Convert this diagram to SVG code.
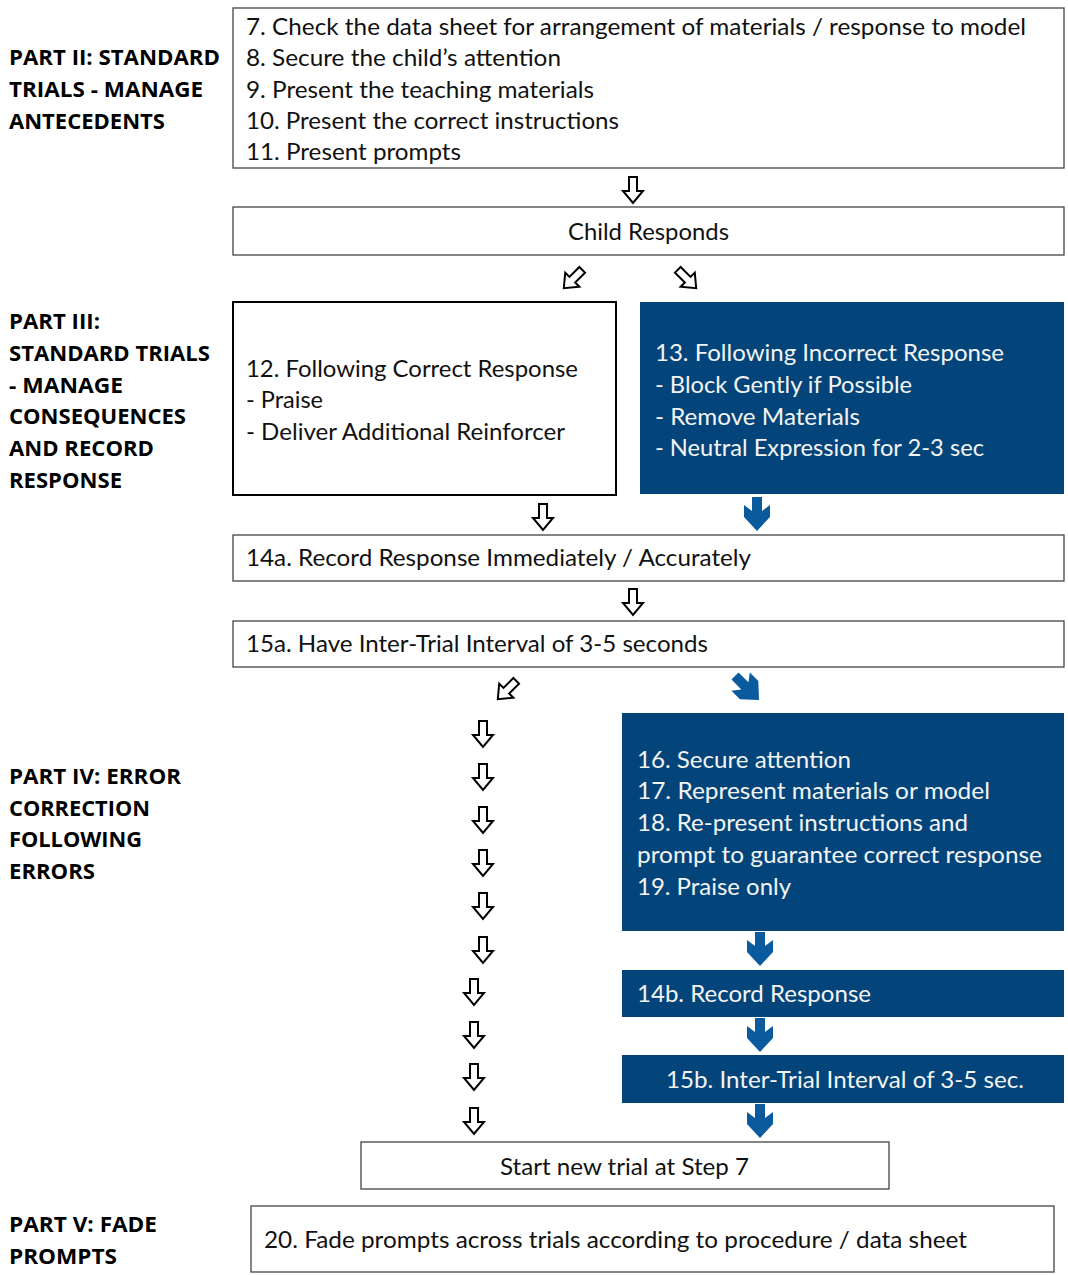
<svg xmlns="http://www.w3.org/2000/svg" xmlns:xlink="http://www.w3.org/1999/xlink" width="1068" height="1275" viewBox="0 0 1068 1275">
<style>
.t{font-family:Lato,"Open Sans","Liberation Sans",sans-serif;font-size:24px;fill:#111}
.w{fill:#f4f4f4}
.b{font-family:"Open Sans",Lato,"Liberation Sans",sans-serif;font-size:21px;font-weight:bold;fill:#000}
.box{fill:#fff;stroke:#444;stroke-width:1.3}
.boxk{fill:#fff;stroke:#000;stroke-width:2}
.blue{fill:#03457a}
.ha{fill:#fff;stroke:#000;stroke-width:2;stroke-linejoin:miter}
.ba{fill:#0a5a9e}
</style>
<defs>
<path id="hollow" d="M-4,-13 H4 V1 H10 L0,13 L-10,1 H-4 Z"/>
<path id="solid" d="M-5,-17 H5 V-3 L13,-9 V3 L0,17 L-13,3 V-9 L-5,-3 Z"/>
</defs>
<rect width="1068" height="1275" fill="#fff"/>

<g id="labels">
<text class="b" x="9" y="65" textLength="211" lengthAdjust="spacingAndGlyphs">PART II: STANDARD</text>
<text class="b" x="9" y="97" textLength="194" lengthAdjust="spacingAndGlyphs">TRIALS - MANAGE</text>
<text class="b" x="9" y="129" textLength="156" lengthAdjust="spacingAndGlyphs">ANTECEDENTS</text>
<text class="b" x="9" y="329" textLength="91" lengthAdjust="spacingAndGlyphs">PART III:</text>
<text class="b" x="9" y="361" textLength="201" lengthAdjust="spacingAndGlyphs">STANDARD TRIALS</text>
<text class="b" x="9" y="393" textLength="114" lengthAdjust="spacingAndGlyphs">- MANAGE</text>
<text class="b" x="9" y="424" textLength="177" lengthAdjust="spacingAndGlyphs">CONSEQUENCES</text>
<text class="b" x="9" y="456" textLength="145" lengthAdjust="spacingAndGlyphs">AND RECORD</text>
<text class="b" x="9" y="488" textLength="113" lengthAdjust="spacingAndGlyphs">RESPONSE</text>
<text class="b" x="9" y="784" textLength="172" lengthAdjust="spacingAndGlyphs">PART IV: ERROR</text>
<text class="b" x="9" y="816" textLength="141" lengthAdjust="spacingAndGlyphs">CORRECTION</text>
<text class="b" x="9" y="847" textLength="133" lengthAdjust="spacingAndGlyphs">FOLLOWING</text>
<text class="b" x="9" y="879" textLength="86" lengthAdjust="spacingAndGlyphs">ERRORS</text>
<text class="b" x="9" y="1232" textLength="148" lengthAdjust="spacingAndGlyphs">PART V: FADE</text>
<text class="b" x="9" y="1264" textLength="108" lengthAdjust="spacingAndGlyphs">PROMPTS</text>
</g>

<g id="n-antecedents">
<rect class="box" x="233" y="8" width="831" height="160"/>
<text class="t" x="246" y="35" textLength="780" lengthAdjust="spacingAndGlyphs">7. Check the data sheet for arrangement of materials / response to model</text>
<text class="t" x="246" y="66" textLength="315" lengthAdjust="spacingAndGlyphs">8. Secure the child’s attention</text>
<text class="t" x="246" y="98" textLength="348" lengthAdjust="spacingAndGlyphs">9. Present the teaching materials</text>
<text class="t" x="246" y="129" textLength="373" lengthAdjust="spacingAndGlyphs">10. Present the correct instructions</text>
<text class="t" x="246" y="160" textLength="215" lengthAdjust="spacingAndGlyphs">11. Present prompts</text>
</g>

<g id="n-child">
<rect class="box" x="233" y="207" width="831" height="48"/>
<text class="t" x="568" y="240" textLength="161" lengthAdjust="spacingAndGlyphs">Child Responds</text>
</g>

<g id="n-correct">
<rect class="boxk" x="233" y="302" width="383" height="193"/>
<text class="t" x="246" y="377" textLength="332" lengthAdjust="spacingAndGlyphs">12. Following Correct Response</text>
<text class="t" x="246" y="408" textLength="77" lengthAdjust="spacingAndGlyphs">- Praise</text>
<text class="t" x="246" y="440" textLength="319" lengthAdjust="spacingAndGlyphs">- Deliver Additional Reinforcer</text>
</g>

<g id="n-incorrect">
<rect class="blue" x="640" y="302" width="424" height="192"/>
<text class="t w" x="655" y="361" textLength="349" lengthAdjust="spacingAndGlyphs">13. Following Incorrect Response</text>
<text class="t w" x="655" y="393" textLength="257" lengthAdjust="spacingAndGlyphs">- Block Gently if Possible</text>
<text class="t w" x="655" y="425" textLength="205" lengthAdjust="spacingAndGlyphs">- Remove Materials</text>
<text class="t w" x="655" y="456" textLength="329" lengthAdjust="spacingAndGlyphs">- Neutral Expression for 2-3 sec</text>
</g>

<g id="n-14a">
<rect class="box" x="233" y="535" width="831" height="46"/>
<text class="t" x="246" y="566" textLength="505" lengthAdjust="spacingAndGlyphs">14a. Record Response Immediately / Accurately</text>
</g>

<g id="n-15a">
<rect class="box" x="233" y="621" width="831" height="46"/>
<text class="t" x="246" y="652" textLength="462" lengthAdjust="spacingAndGlyphs">15a. Have Inter-Trial Interval of 3-5 seconds</text>
</g>

<g id="n-errcorr">
<rect class="blue" x="622" y="713" width="442" height="218"/>
<text class="t w" x="637" y="768" textLength="214" lengthAdjust="spacingAndGlyphs">16. Secure attention</text>
<text class="t w" x="637" y="799" textLength="353" lengthAdjust="spacingAndGlyphs">17. Represent materials or model</text>
<text class="t w" x="637" y="831" textLength="331" lengthAdjust="spacingAndGlyphs">18. Re-present instructions and</text>
<text class="t w" x="637" y="863" textLength="405" lengthAdjust="spacingAndGlyphs">prompt to guarantee correct response</text>
<text class="t w" x="637" y="895" textLength="154" lengthAdjust="spacingAndGlyphs">19. Praise only</text>
</g>

<g id="n-14b">
<rect class="blue" x="622" y="970" width="442" height="47"/>
<text class="t w" x="637" y="1002" textLength="234" lengthAdjust="spacingAndGlyphs">14b. Record Response</text>
</g>

<g id="n-15b">
<rect class="blue" x="622" y="1055" width="442" height="48"/>
<text class="t w" x="666" y="1088" textLength="358" lengthAdjust="spacingAndGlyphs">15b. Inter-Trial Interval of 3-5 sec.</text>
</g>

<g id="n-start">
<rect class="box" x="361" y="1142" width="528" height="47"/>
<text class="t" x="500" y="1175" textLength="249" lengthAdjust="spacingAndGlyphs">Start new trial at Step 7</text>
</g>

<g id="n-fade">
<rect class="box" x="251" y="1206" width="803" height="66"/>
<text class="t" x="264" y="1248" textLength="703" lengthAdjust="spacingAndGlyphs">20. Fade prompts across trials according to procedure / data sheet</text>
</g>

<g id="connectors">
<use href="#hollow" class="ha" transform="translate(633,190)"/>
<use href="#hollow" class="ha" transform="translate(573,279) rotate(45)"/>
<use href="#hollow" class="ha" transform="translate(687,279) rotate(-45)"/>
<use href="#hollow" class="ha" transform="translate(543,517)"/>
<use href="#solid" class="ba" transform="translate(757,514)"/>
<use href="#hollow" class="ha" transform="translate(633,602)"/>
<use href="#hollow" class="ha" transform="translate(507,690) rotate(45)"/>
<use href="#solid" class="ba" transform="translate(747,688) rotate(-45)"/>
<use href="#hollow" class="ha" transform="translate(483,734)"/>
<use href="#hollow" class="ha" transform="translate(483,777)"/>
<use href="#hollow" class="ha" transform="translate(483,820)"/>
<use href="#hollow" class="ha" transform="translate(483,863)"/>
<use href="#hollow" class="ha" transform="translate(483,906)"/>
<use href="#hollow" class="ha" transform="translate(483,950)"/>
<use href="#hollow" class="ha" transform="translate(474,992)"/>
<use href="#hollow" class="ha" transform="translate(474,1035)"/>
<use href="#hollow" class="ha" transform="translate(474,1077)"/>
<use href="#hollow" class="ha" transform="translate(474,1121)"/>
<use href="#solid" class="ba" transform="translate(760,949)"/>
<use href="#solid" class="ba" transform="translate(760,1035)"/>
<use href="#solid" class="ba" transform="translate(760,1121)"/>
</g>
</svg>
